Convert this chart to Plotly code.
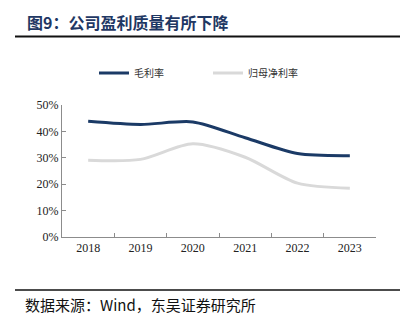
import plotly.graph_objects as go

# Data
years = ["2018", "2019", "2020", "2021", "2022", "2023"]
gross_margin = [0.438, 0.426, 0.436, 0.376, 0.316, 0.308]
net_margin = [0.291, 0.294, 0.353, 0.302, 0.204, 0.185]
series_names = ["毛利率", "归母净利率"]
y_ticks = [0, 0.1, 0.2, 0.3, 0.4, 0.5]

NAVY = "#1B3A66"
GRAY = "#D9D9D9"
AXIS = "#8C8C8C"
CJK = "Noto Sans CJK SC"
SERIF = "Liberation Serif"

fig = go.Figure()
fig.add_trace(go.Scatter(
    x=years, y=gross_margin, name=series_names[0], mode="lines",
    line=dict(color=NAVY, width=3, shape="spline", smoothing=0.8),
))
fig.add_trace(go.Scatter(
    x=years, y=net_margin, name=series_names[1], mode="lines",
    line=dict(color=GRAY, width=3, shape="spline", smoothing=0.8),
))

W, H = 409, 326
L, R, T, B = 62, 33, 105, 89
pw, ph = W - L - R, H - T - B


def px_x(x):
    return (x - L) / pw


def px_y(y):
    return (H - B - y) / ph


fig.update_layout(
    width=W, height=H,
    margin=dict(l=L, r=R, t=T, b=B, pad=0),
    paper_bgcolor="white", plot_bgcolor="white",
    showlegend=True,
    legend=dict(
        orientation="h", x=px_x(94), y=px_y(73), xanchor="left", yanchor="middle",
        font=dict(family=CJK, size=10, color="#333333"),
        entrywidth=69, entrywidthmode="pixels",
        itemwidth=30, bgcolor="rgba(0,0,0,0)", borderwidth=0,
    ),
    xaxis=dict(
        type="category", tickson="boundaries", ticks="inside", ticklen=4,
        tickcolor=AXIS, showline=True, linecolor=AXIS, linewidth=1,
        showgrid=False, zeroline=False,
        tickfont=dict(family=SERIF, size=12, color="#222222"),
        range=[-0.5, 5.5],
    ),
    yaxis=dict(
        range=[0, 0.5], tickvals=y_ticks, tickformat=".0%",
        ticks="inside", ticklen=4, tickcolor=AXIS,
        showline=True, linecolor=AXIS, linewidth=1,
        showgrid=False, zeroline=False,
        tickfont=dict(family=SERIF, size=12, color="#222222"),
    ),
    shapes=[
        dict(type="line", xref="paper", yref="paper",
             x0=px_x(15), x1=px_x(400), y0=px_y(36.5), y1=px_y(36.5),
             line=dict(color="#111111", width=2)),
        dict(type="line", xref="paper", yref="paper",
             x0=px_x(15), x1=px_x(400), y0=px_y(290), y1=px_y(290),
             line=dict(color="#111111", width=1.5)),
    ],
    annotations=[
        dict(text="<b>图9：公司盈利质量有所下降</b>", xref="paper", yref="paper",
             x=px_x(25), y=px_y(22), xanchor="left", yanchor="middle",
             showarrow=False, font=dict(family=CJK, size=16, color="#1F3864")),
        dict(text="数据来源：Wind，东吴证券研究所", xref="paper", yref="paper",
             x=px_x(23), y=px_y(304), xanchor="left", yanchor="middle",
             showarrow=False, font=dict(family=CJK, size=15, color="#111111")),
    ],
)

fig.write_html("out.html")
